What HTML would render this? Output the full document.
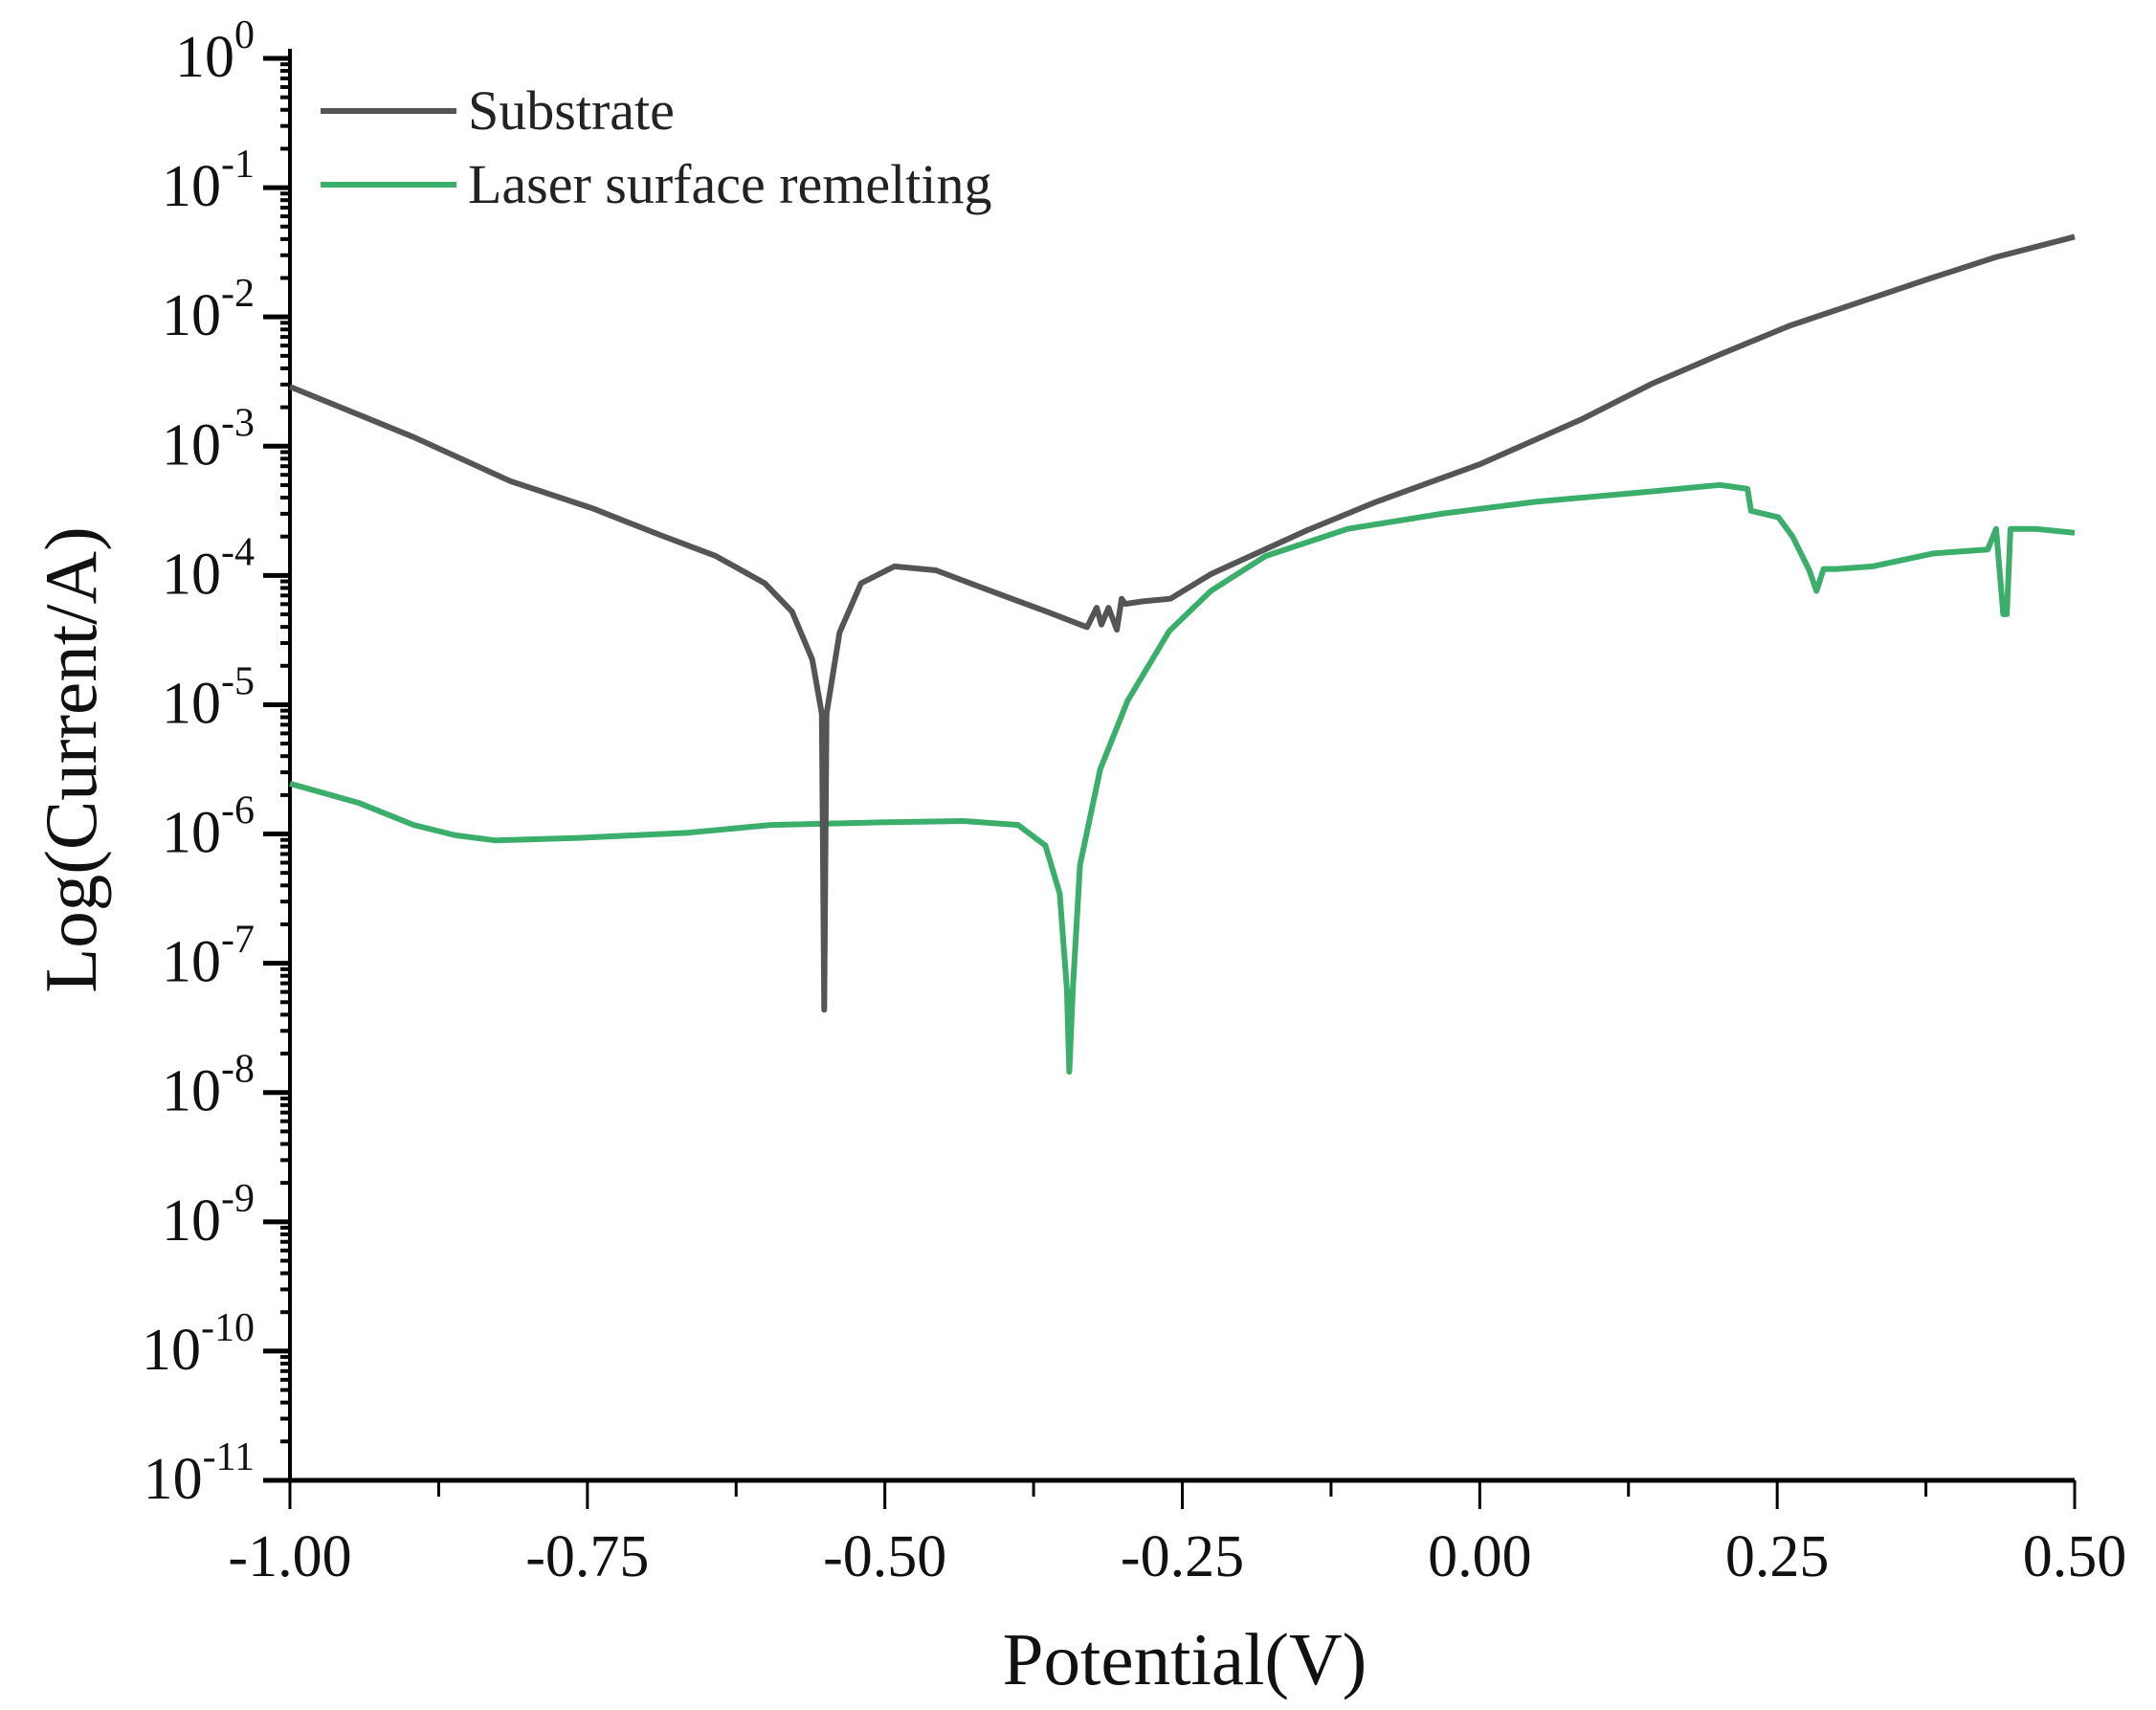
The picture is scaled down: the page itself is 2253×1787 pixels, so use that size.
<!DOCTYPE html>
<html><head><meta charset="utf-8"><style>
html,body{margin:0;padding:0;background:#fff;}
svg{display:block;font-family:"Liberation Serif",serif;}
</style></head><body>
<svg id="chart" width="2253" height="1787" viewBox="0 0 2253 1787" xmlns="http://www.w3.org/2000/svg">
<rect width="2253" height="1787" fill="#fff"/>
<g id="axes"></g>
<g id="series"></g>
<g>
<line x1="335" y1="116" x2="477" y2="116" stroke="#555" stroke-width="6"/>
<text x="489" y="135" font-size="58" fill="#222">Substrate</text>
<line x1="335" y1="193" x2="477" y2="193" stroke="#3aae6a" stroke-width="6"/>
<text x="489" y="212" font-size="58" fill="#222">Laser surface remelting</text>
</g>
<text transform="translate(100,794) rotate(-90)" text-anchor="middle" font-size="77" fill="#111">Log(Current/A)</text>
<text x="1238" y="1760" text-anchor="middle" font-size="77" fill="#111">Potential(V)</text>
</svg>
<script>
const xTicks = [-1.00, -0.75, -0.50, -0.25, 0.00, 0.25, 0.50];
const xTickLabels = ["-1.00", "-0.75", "-0.50", "-0.25", "0.00", "0.25", "0.50"];
const yDecades = [0, -1, -2, -3, -4, -5, -6, -7, -8, -9, -10, -11];
const subV = [-1.0,-0.896,-0.815,-0.746,-0.688,-0.642,-0.601,-0.578,-0.561,-0.553,-0.551,-0.549,-0.538,-0.520,-0.492,-0.457,-0.411,-0.364,-0.330,-0.322,-0.318,-0.312,-0.305,-0.301,-0.298,-0.283,-0.260,-0.226,-0.145,-0.087,0.0,0.086,0.144,0.202,0.260,0.318,0.376,0.433,0.5];
const subLog = [-2.54,-2.93,-3.27,-3.48,-3.69,-3.85,-4.06,-4.28,-4.65,-5.07,-7.36,-5.07,-4.44,-4.06,-3.93,-3.96,-4.12,-4.28,-4.40,-4.25,-4.38,-4.25,-4.42,-4.18,-4.22,-4.20,-4.18,-3.99,-3.65,-3.43,-3.14,-2.79,-2.52,-2.29,-2.07,-1.89,-1.71,-1.54,-1.38];
const lsrV = [-1.0,-0.942,-0.896,-0.861,-0.827,-0.757,-0.665,-0.596,-0.503,-0.434,-0.388,-0.365,-0.353,-0.347,-0.345,-0.342,-0.336,-0.319,-0.296,-0.261,-0.226,-0.180,-0.111,-0.030,0.047,0.144,0.202,0.225,0.228,0.251,0.263,0.277,0.283,0.289,0.300,0.330,0.381,0.427,0.434,0.440,0.443,0.446,0.467,0.5];
const lsrLog = [-5.61,-5.76,-5.93,-6.01,-6.05,-6.03,-5.99,-5.93,-5.91,-5.90,-5.93,-6.09,-6.46,-7.20,-7.84,-7.20,-6.24,-5.50,-4.97,-4.43,-4.12,-3.85,-3.64,-3.52,-3.43,-3.35,-3.30,-3.33,-3.50,-3.55,-3.70,-3.96,-4.12,-3.95,-3.95,-3.93,-3.83,-3.80,-3.64,-4.30,-4.30,-3.64,-3.64,-3.67];

const X0 = 303, X1 = 2168, Y0 = 61, Y11 = 1547;
const xs = v => X0 + (v + 1.0) / 1.5 * (X1 - X0);
const ys = l => Y0 + (-l) / 11 * (Y11 - Y0);
const NS = "http://www.w3.org/2000/svg";
function mk(tag, attrs, parent) {
  const e = document.createElementNS(NS, tag);
  for (const k in attrs) e.setAttribute(k, attrs[k]);
  parent.appendChild(e);
  return e;
}
const axes = document.getElementById('axes');
const yAxis = mk('line', {x1: X0, y1: Y0 - 10, x2: X0, y2: Y11, stroke: '#000', 'stroke-width': 4}, axes);


const xAxis = mk('line', {x1: X0 - 28, y1: Y11, x2: X1, y2: Y11, stroke: '#000', 'stroke-width': 5}, axes);


yDecades.forEach(d => {
  const y = ys(d);
  const t = mk('line', {x1: X0 - 28, y1: y, x2: X0, y2: y, stroke: '#000', 'stroke-width': 5}, axes);
  
  
  if (d > -11) {
    for (let m = 2; m <= 9; m++) {
      const ym = ys(d - 1 + Math.log10(m));
      const mt = mk('line', {x1: X0 - 10, y1: ym, x2: X0, y2: ym, stroke: '#000', 'stroke-width': 4}, axes);
      
      
    }
  }
  const lab = mk('text', {x: 266, y: y + 19, 'text-anchor': 'end', 'font-size': 62, fill: '#111'}, axes);
  
  
  const base = mk('tspan', {}, lab);
  base.textContent = '10';
  const sup = mk('tspan', {dy: -30, 'font-size': 42}, lab);
  sup.textContent = d === 0 ? '0' : '-' + (-d);
});
xTicks.forEach((v, i) => {
  const x = xs(v);
  const t = mk('line', {x1: x, y1: Y11, x2: x, y2: Y11 + 30, stroke: '#000', 'stroke-width': 3}, axes);
  
  
  if (i < xTicks.length - 1) {
    const xm = xs(v + 0.125);
    const mt = mk('line', {x1: xm, y1: Y11, x2: xm, y2: Y11 + 17, stroke: '#000', 'stroke-width': 3}, axes);
    
    
  }
  const lab = mk('text', {x: x, y: Y11 + 100, 'text-anchor': 'middle', 'font-size': 62, fill: '#111'}, axes);
  
  
  lab.textContent = xTickLabels[i];
});
const series = document.getElementById('series');
function drawLine(V, L, color, name) {
  const d = V.map((v, i) => (i ? 'L' : 'M') + xs(v).toFixed(1) + ' ' + ys(L[i]).toFixed(1)).join(' ');
  const p = mk('path', {d: d, fill: 'none', stroke: color, 'stroke-width': 6, 'stroke-linejoin': 'round'}, series);
  
  
}
drawLine(lsrV, lsrLog, '#3aae6a', 'lsr-line');
drawLine(subV, subLog, '#555555', 'substrate-line');
</script>
</body></html>
